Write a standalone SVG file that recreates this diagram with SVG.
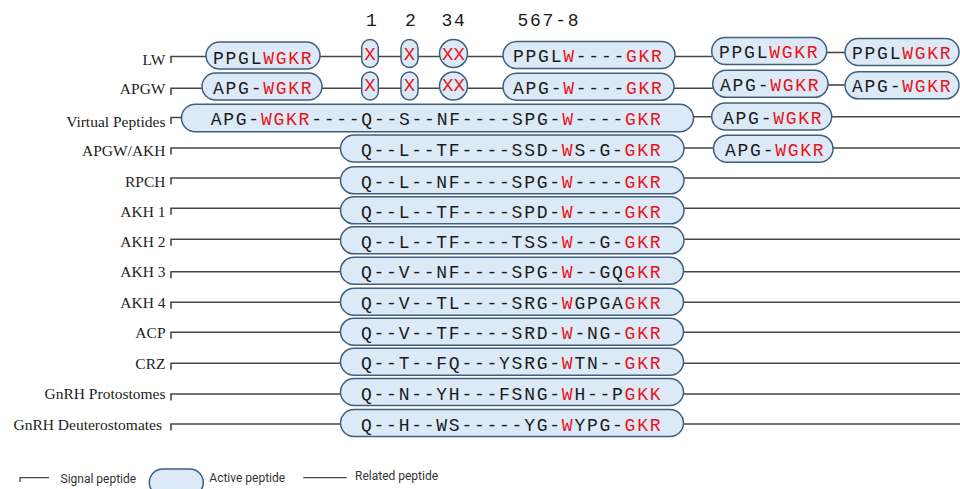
<svg xmlns="http://www.w3.org/2000/svg" width="960" height="489" viewBox="0 0 960 489">
<style>
.lbl{font-family:"Liberation Serif",serif;font-size:15.5px;fill:#222;text-anchor:end}
.seq{font-family:"Liberation Mono",monospace;font-size:18px;letter-spacing:1.75px;fill:#1a1a1a}
.xs{font-family:"Liberation Mono",monospace;font-size:19px;fill:#e8141b;text-anchor:middle}
.r{fill:#e8141b}
.box{fill:#dceaf7;stroke:#3f5f7f;stroke-width:1.5}
.ln{stroke:#474747;stroke-width:1.6;fill:none}
.leg{font-family:Roboto,"Liberation Sans",sans-serif;font-size:12px;fill:#333}
.hdr{font-family:"Liberation Mono",monospace;font-size:18px;letter-spacing:1.75px;fill:#1a1a1a}
</style>
<rect width="960" height="489" fill="#fff"/>
<g id="header">
<text class="hdr" x="366" y="26">1</text>
<text class="hdr" x="405" y="26">2</text>
<text class="hdr" x="441.5" y="26">34</text>
<text class="hdr" x="517.5" y="26">567-8</text>
</g>
<g id="connectors">
<path class="ln" d="M171 63 V56.5 H712"/>
<path class="ln" d="M826 52.5 H846"/>
<path class="ln" d="M171 95 V88.3 H713"/>
<path class="ln" d="M828 85 H846"/>
<path class="ln" d="M171 124 V117.5 H183"/>
<path class="ln" d="M693 116.7 H960"/>
<path class="ln" d="M171 154.5 V148 H960"/>
<path class="ln" d="M171 184.5 V178 H960"/>
<path class="ln" d="M171 214.8 V208.3 H960"/>
<path class="ln" d="M171 245.8 V239.3 H960"/>
<path class="ln" d="M171 278.2 V271.7 H960"/>
<path class="ln" d="M171 308.8 V302.3 H960"/>
<path class="ln" d="M171 338.8 V332.3 H960"/>
<path class="ln" d="M171 369.8 V363.3 H960"/>
<path class="ln" d="M171 400.5 V394 H960"/>
<path class="ln" d="M171 430.5 V424 H960"/>
</g>
<g id="LW">
<text class="lbl" x="165.5" y="65">LW</text>
<rect class="box" x="206" y="42" width="114" height="27" rx="13.5"/>
<text class="seq" x="213" y="63.5">PPGL<tspan class="r">WGKR</tspan></text>
<rect class="box" x="361.7" y="39.5" width="16.6" height="28" rx="8.3"/>
<text class="xs" x="370" y="60">X</text>
<rect class="box" x="401" y="39.5" width="17" height="28" rx="8.5"/>
<text class="xs" x="409.5" y="60">X</text>
<rect class="box" x="439.5" y="39.5" width="28" height="28" rx="14"/>
<text class="xs" x="453.5" y="60" style="letter-spacing:0px">XX</text>
<rect class="box" x="503" y="41.5" width="172" height="27" rx="13.5"/>
<text class="seq" x="513" y="62">PPGL<tspan class="r">W</tspan>----<tspan class="r">GKR</tspan></text>
<rect class="box" x="711.7" y="37.5" width="115" height="27" rx="13.5"/>
<text class="seq" x="719" y="58">PPGL<tspan class="r">WGKR</tspan></text>
<rect class="box" x="845" y="38.5" width="114" height="27" rx="13.5"/>
<text class="seq" x="852" y="59">PPGL<tspan class="r">WGKR</tspan></text>
</g>
<g id="APGW">
<text class="lbl" x="165.5" y="94.3">APGW</text>
<rect class="box" x="202" y="73" width="120" height="27" rx="13.5"/>
<text class="seq" x="213" y="94">APG-<tspan class="r">WGKR</tspan></text>
<rect class="box" x="361.7" y="72" width="16.6" height="28" rx="8.3"/>
<text class="xs" x="370" y="91">X</text>
<rect class="box" x="401" y="72" width="17" height="28" rx="8.5"/>
<text class="xs" x="409.5" y="91">X</text>
<rect class="box" x="439.5" y="72" width="28" height="28" rx="14"/>
<text class="xs" x="453.5" y="91" style="letter-spacing:0px">XX</text>
<rect class="box" x="503" y="73.3" width="171" height="27" rx="13.5"/>
<text class="seq" x="513" y="93.5">APG-<tspan class="r">W</tspan>----<tspan class="r">GKR</tspan></text>
<rect class="box" x="712.7" y="70.3" width="115.3" height="27" rx="13.5"/>
<text class="seq" x="720" y="91">APG-<tspan class="r">WGKR</tspan></text>
<rect class="box" x="845" y="71.8" width="114" height="27" rx="13.5"/>
<text class="seq" x="852" y="92.3">APG-<tspan class="r">WGKR</tspan></text>
</g>
<g id="VirtualPeptides">
<text class="lbl" x="165.5" y="126.5">Virtual Peptides</text>
<rect class="box" x="181.5" y="104.3" width="512" height="27.4" rx="13.7"/>
<text class="seq" x="210.7" y="125">APG-<tspan class="r">WGKR</tspan>----Q--S--NF----SPG-<tspan class="r">W</tspan>----<tspan class="r">GKR</tspan></text>
<rect class="box" x="711.7" y="103" width="120" height="27" rx="13.5"/>
<text class="seq" x="723" y="124.3">APG-<tspan class="r">WGKR</tspan></text>
</g>
<g id="APGW-AKH">
<text class="lbl" x="165.5" y="156">APGW/AKH</text>
<rect class="box" x="340.5" y="135" width="343.5" height="27" rx="13.5"/>
<text class="seq" x="361" y="156.3">Q--L--TF----SSD-<tspan class="r">W</tspan>S-G-<tspan class="r">GKR</tspan></text>
<rect class="box" x="713.5" y="135.2" width="119.5" height="27" rx="13.5"/>
<text class="seq" x="725" y="156">APG-<tspan class="r">WGKR</tspan></text>
</g>
<g id="RPCH">
<text class="lbl" x="165.5" y="186.7">RPCH</text>
<rect class="box" x="340.5" y="166.8" width="343.5" height="27" rx="13.5"/>
<text class="seq" x="361" y="187.9">Q--L--NF----SPG-<tspan class="r">W</tspan>----<tspan class="r">GKR</tspan></text>
</g>
<g id="AKH1">
<text class="lbl" x="165.5" y="217">AKH 1</text>
<rect class="box" x="340.5" y="196.8" width="343.5" height="27" rx="13.5"/>
<text class="seq" x="361" y="217.9">Q--L--TF----SPD-<tspan class="r">W</tspan>----<tspan class="r">GKR</tspan></text>
</g>
<g id="AKH2">
<text class="lbl" x="165.5" y="247">AKH 2</text>
<rect class="box" x="340.5" y="226.8" width="343.5" height="27" rx="13.5"/>
<text class="seq" x="361" y="247.9">Q--L--TF----TSS-<tspan class="r">W</tspan>--G-<tspan class="r">GKR</tspan></text>
</g>
<g id="AKH3">
<text class="lbl" x="165.5" y="277">AKH 3</text>
<rect class="box" x="340.5" y="257.2" width="343" height="27" rx="13.5"/>
<text class="seq" x="361" y="278.3">Q--V--NF----SPG-<tspan class="r">W</tspan>--GQ<tspan class="r">GKR</tspan></text>
</g>
<g id="AKH4">
<text class="lbl" x="165.5" y="307.7">AKH 4</text>
<rect class="box" x="340.5" y="288.2" width="343" height="27" rx="13.5"/>
<text class="seq" x="361" y="309.3">Q--V--TL----SRG-<tspan class="r">W</tspan>GPGA<tspan class="r">GKR</tspan></text>
</g>
<g id="ACP">
<text class="lbl" x="165.5" y="338">ACP</text>
<rect class="box" x="340.5" y="318.2" width="343" height="27" rx="13.5"/>
<text class="seq" x="361" y="339.3">Q--V--TF----SRD-<tspan class="r">W</tspan>-NG-<tspan class="r">GKR</tspan></text>
</g>
<g id="CRZ">
<text class="lbl" x="165.5" y="369">CRZ</text>
<rect class="box" x="340.5" y="348.2" width="343" height="27" rx="13.5"/>
<text class="seq" x="361" y="369.3">Q--T--FQ---YSRG-<tspan class="r">W</tspan>TN--<tspan class="r">GKR</tspan></text>
</g>
<g id="GnRH-Protostomes">
<text class="lbl" x="165.5" y="399">GnRH Protostomes</text>
<rect class="box" x="340.5" y="378.5" width="343" height="27" rx="13.5"/>
<text class="seq" x="361" y="399.6">Q--N--YH---FSNG-<tspan class="r">W</tspan>H--P<tspan class="r">GKK</tspan></text>
</g>
<g id="GnRH-Deuterostomates">
<text class="lbl" x="162" y="430">GnRH Deuterostomates</text>
<rect class="box" x="340.5" y="409.5" width="343" height="27" rx="13.5"/>
<text class="seq" x="361" y="430.6">Q--H--WS-----YG-<tspan class="r">W</tspan>YPG-<tspan class="r">GKR</tspan></text>
</g>
<g id="legend">
<path class="ln" d="M20 482 V477.7 H49" style="stroke-width:1.3"/>
<text class="leg" x="60.5" y="482.7">Signal peptide</text>
<rect class="box" x="149.3" y="469" width="54" height="27" rx="13.5"/>
<text class="leg" x="209.3" y="482">Active peptide</text>
<path class="ln" d="M303.3 477.7 H346.7" style="stroke-width:1.3"/>
<text class="leg" x="355" y="480">Related peptide</text>
</g>
</svg>
